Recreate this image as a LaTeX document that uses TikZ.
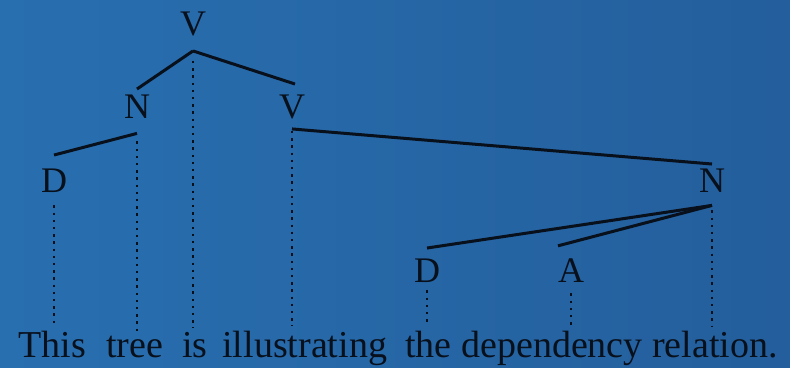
\documentclass[tikz,border=0pt]{standalone}
\usepackage{fontspec}
\setmainfont{Liberation Serif}
\usepackage{xcolor}
\usepackage{tikz}
\definecolor{bgleft}{RGB}{40,111,176}
\definecolor{bgright}{RGB}{36,94,156}
\definecolor{ink}{RGB}{8,16,28}

\begin{document}
\begin{tikzpicture}[x=0.5pt, y=-0.5pt,
  cat/.style={inner sep=0pt, anchor=base, text=ink, font=\fontsize{18}{20}\selectfont},
  word/.style={inner sep=0pt, anchor=base west, text=ink, font=\fontsize{19}{22}\selectfont},
  edge/.style={draw=ink, line width=1.5pt},
  proj/.style={draw=ink, line width=1.3pt, dash pattern=on 1.2pt off 2.4pt, shorten >=2pt}]
\fill[left color=bgleft, right color=bgright] (0,0) rectangle (790,368);
% categories
\node[cat] (vt) at (193,36) {V};
\node[cat] (nl) at (137,119) {N};
\node[cat] (vr) at (292,119) {V};
\node[cat] (dl) at (54,193) {D};
\node[cat] (nr) at (712,193) {N};
\node[cat] (dr) at (427,282) {D};
\node[cat] (a) at (571,282) {A};
% sentence
\node[word] (w1) at (18,357) {This};
\node[word] (w2) at (106,357) {tree};
\node[word] (w3) at (182,357) {is};
\node[word] (w4) at (222,357) {illustrating};
\node[word] (w5) at (405,357) {the dependency relation.};
% dependencies
\draw[edge] ([yshift=-7pt]vt.south) -- ([yshift=3pt]nl.north);
\draw[edge] ([yshift=-7pt]vt.south) -- ([xshift=1.5pt,yshift=5.5pt]vr.north);
\draw[edge] ([yshift=7pt]dl.north) -- ([yshift=-7pt]nl.south);
\draw[edge] ([yshift=-4.5pt]vr.south) -- ([yshift=2.5pt]nr.north);
\draw[edge] ([yshift=-6pt]nr.south) -- ([yshift=5pt]dr.north);
\draw[edge] ([yshift=-6pt]nr.south) -- ([xshift=-6.5pt,yshift=6pt]a.north);
% projection lines
\draw[proj] ([yshift=-12pt]vt.south) -- (vt.south |- w3.north);
\draw[proj] ([yshift=-11pt]nl.south) -- (nl.south |- w2.north);
\draw[proj] ([yshift=-5.5pt]vr.south) -- (vr.south |- w4.north);
\draw[proj] ([yshift=-6pt]dl.south) -- (dl.south |- w1.north);
\draw[proj] ([yshift=-8.5pt]nr.south) -- (nr.south |- w5.north);
\draw[proj] ([yshift=-4pt]dr.south) -- (dr.south |- w5.north);
\draw[proj] ([yshift=-5.5pt]a.south) -- (a.south |- w5.north);
\end{tikzpicture}
\end{document}
